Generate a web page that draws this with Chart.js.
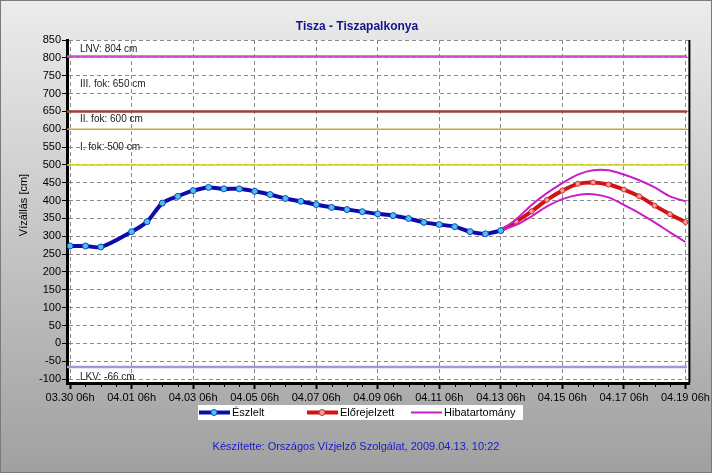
<!DOCTYPE html>
<html>
<head>
<meta charset="utf-8">
<script src="https://cdn.jsdelivr.net/npm/chart.js@4.4.1/dist/chart.umd.min.js"></script>
<style>
html, body { margin: 0; padding: 0; background: #fff; }
#wrap { width: 712px; height: 473px; position: relative; }
</style>
</head>
<body>
<div id="wrap"><canvas id="chart"></canvas></div>
<script>
// time axis labels, every 2 days from 03.30 06h
const timeLabels = ['03.30 06h', '04.01 06h', '04.03 06h', '04.05 06h', '04.07 06h', '04.09 06h',
                    '04.11 06h', '04.13 06h', '04.15 06h', '04.17 06h', '04.19 06h'];
const levelTicks = [-100, -50, 0, 50, 100, 150, 200, 250, 300, 350, 400, 450, 500, 550, 600, 650, 700, 750, 800, 850];

// observed water level [cm], one reading every 12 h from 03.30 06h (null = missing)
const observed = [273, 273, 270, null, 313, 341, 393, 412, 428, 437, 433, 433, 426, 417, 406,
                  398, 389, 381, 375, 369, 363, 358, 350, 339, 333, 327, 313, 307, 316];
// forecast + error band, every 12 h from 04.13 06h
const forecast  = [316, 341, 370, 402, 428, 447, 451, 445, 431, 412, 386, 362, 340];
const bandUpper = [316, 348, 388, 421, 449, 473, 485, 485, 473, 457, 437, 412, 398];
const bandLower = [316, 332, 356, 384, 404, 416, 418, 409, 388, 365, 339, 311, 284];

// warning levels
const refLevels = [804, 650, 600, 500, -66];
const refNames  = ['LNV: 804 cm', 'III. fok: 650 cm', 'II. fok: 600 cm', 'I. fok: 500 cm', 'LKV: -66 cm'];
const refColors = ['#c850c8', '#a03c3c', '#d0a040', '#d6d600', '#9c9cd4'];

const FONT = "'Liberation Sans', Arial, sans-serif";
const X_MIN = -0.1, X_MAX = 20.13, FORECAST_START = 14;

const toPoints = (vals, start) => vals.map((v, i) => ({ x: start + i * 0.5, y: v }));

const frame = {
    id: 'frame',
    beforeDraw(chart) {
        const { ctx, width, height, chartArea: a } = chart;
        ctx.save();
        const g = ctx.createLinearGradient(0, 0, 0, height);
        g.addColorStop(0, '#ececec');
        g.addColorStop(1, '#a0a0a0');
        ctx.fillStyle = g;
        ctx.fillRect(0, 0, width, height);
        ctx.strokeStyle = '#7a7a7a';
        ctx.lineWidth = 1;
        ctx.strokeRect(0.5, 0.5, width - 1, height - 1);
        ctx.fillStyle = '#fff';
        ctx.fillRect(a.left, a.top, a.right - a.left, a.bottom - a.top);
        ctx.restore();
    },
    afterDraw(chart) {
        const { ctx, chartArea: a, scales: { x, y } } = chart;
        ctx.save();
        // right border
        ctx.strokeStyle = '#000';
        ctx.lineWidth = 2;
        ctx.beginPath();
        ctx.moveTo(a.right, a.top);
        ctx.lineTo(a.right, a.bottom);
        ctx.stroke();
        // minor ticks every 12h
        ctx.lineWidth = 1;
        for (let d = 0.5; d < 20; d += 0.5) {
            if (d % 2 === 0) continue;
            const px = Math.round(x.getPixelForValue(d)) + 0.5;
            ctx.beginPath();
            ctx.moveTo(px, a.bottom);
            ctx.lineTo(px, a.bottom + 4);
            ctx.stroke();
        }
        // level labels
        const offs = [-7, -27, -10, -18, 10];
        ctx.fillStyle = '#222';
        ctx.font = '10px ' + FONT;
        ctx.textBaseline = 'middle';
        ctx.textAlign = 'left';
        refLevels.forEach((v, i) => {
            ctx.fillText(refNames[i], a.left + 13, y.getPixelForValue(v) + offs[i]);
        });
        // title
        ctx.fillStyle = '#12128c';
        ctx.font = 'bold 12px ' + FONT;
        ctx.textAlign = 'center';
        ctx.fillText('Tisza - Tiszapalkonya', 357, 27);
        // y title
        ctx.save();
        ctx.translate(24, 205);
        ctx.rotate(-Math.PI / 2);
        ctx.fillStyle = '#000';
        ctx.font = '11px ' + FONT;
        ctx.fillText('Vízállás [cm]', 0, 0);
        ctx.restore();
        // legend
        const ly = 412.5;
        ctx.fillStyle = '#fff';
        ctx.fillRect(198, 405, 325, 15);
        const items = [
            { text: 'Észlelt', x: 199, ds: chart.data.datasets[0], marker: true },
            { text: 'Előrejelzett', x: 307, ds: chart.data.datasets[3], marker: true },
            { text: 'Hibatartomány', x: 411, ds: chart.data.datasets[1], marker: false }
        ];
        ctx.font = '11px ' + FONT;
        ctx.textAlign = 'left';
        items.forEach(it => {
            ctx.strokeStyle = it.ds.borderColor;
            ctx.lineWidth = it.ds.borderWidth;
            ctx.beginPath();
            ctx.moveTo(it.x, ly);
            ctx.lineTo(it.x + 31, ly);
            ctx.stroke();
            if (it.marker) {
                ctx.beginPath();
                ctx.arc(it.x + 15, ly, 3, 0, Math.PI * 2);
                ctx.fillStyle = it.ds.pointBackgroundColor;
                ctx.fill();
                ctx.lineWidth = 1;
                ctx.strokeStyle = it.ds.pointBorderColor;
                ctx.stroke();
            }
            ctx.fillStyle = '#000';
            ctx.fillText(it.text, it.x + 33, ly);
        });
        // footer
        ctx.fillStyle = '#1a1ac8';
        ctx.textAlign = 'center';
        ctx.fillText('Készítette: Országos Vízjelző Szolgálat, 2009.04.13. 10:22', 356, 447);
        ctx.restore();
    }
};

const refSets = refLevels.map((v, i) => ({
    label: refNames[i],
    data: [{ x: X_MIN, y: v }, { x: 20.05, y: v }],
    borderColor: refColors[i],
    borderWidth: i < 2 || i === 4 ? 2.5 : 1.5,
    pointRadius: 0
}));

new Chart(document.getElementById('chart'), {
    type: 'line',
    data: {
        datasets: [
            {
                label: 'Észlelt',
                data: toPoints(observed, 0),
                borderColor: '#0c0caa',
                borderWidth: 4,
                pointRadius: 3,
                pointBackgroundColor: '#44c8f2',
                pointBorderColor: '#2040c0',
                pointBorderWidth: 1,
                tension: 0.3,
                spanGaps: true
            },
            {
                label: 'Hibatartomány',
                data: toPoints(bandUpper, FORECAST_START),
                borderColor: '#c81ec8',
                borderWidth: 2,
                pointRadius: 0,
                tension: 0.3
            },
            {
                label: 'Hibatartomány',
                data: toPoints(bandLower, FORECAST_START),
                borderColor: '#c81ec8',
                borderWidth: 2,
                pointRadius: 0,
                tension: 0.3
            },
            {
                label: 'Előrejelzett',
                data: toPoints(forecast, FORECAST_START),
                borderColor: '#d01414',
                borderWidth: 4,
                pointRadius: 2.5,
                pointBackgroundColor: '#f4a0a0',
                pointBorderColor: '#d03030',
                pointBorderWidth: 1,
                tension: 0.3
            },
            ...refSets
        ]
    },
    options: {
        responsive: true,
        maintainAspectRatio: false,
        animation: false,
        layout: { padding: { top: 40, right: 21, left: 0, bottom: 0 } },
        plugins: {
            legend: { display: false },
            tooltip: { enabled: false }
        },
        scales: {
            x: {
                type: 'linear',
                min: X_MIN,
                max: X_MAX,
                afterBuildTicks: s => { s.ticks = timeLabels.map((t, i) => ({ value: i * 2 })); },
                afterFit: s => { s.height = 90; },
                ticks: {
                    callback: v => timeLabels[v / 2],
                    color: '#000',
                    font: { family: FONT, size: 11 },
                    padding: 2,
                    maxRotation: 0,
                    autoSkip: false
                },
                grid: { color: '#8a8a8a', tickColor: '#000', tickLength: 6, tickWidth: 2, tickBorderDash: [] },
                border: { color: '#000', width: 3, dash: [4, 3] }
            },
            y: {
                min: -111,
                max: 850,
                afterBuildTicks: s => { s.ticks = levelTicks.map(v => ({ value: v })); },
                afterFit: s => { s.width = 67; },
                ticks: {
                    color: '#000',
                    font: { family: FONT, size: 11 },
                    padding: 1
                },
                grid: { color: '#8a8a8a', tickColor: '#000', tickLength: 5, tickWidth: 1, tickBorderDash: [] },
                border: { color: '#000', width: 3, dash: [4, 3] }
            }
        }
    },
    plugins: [frame]
});
</script>
</body>
</html>
